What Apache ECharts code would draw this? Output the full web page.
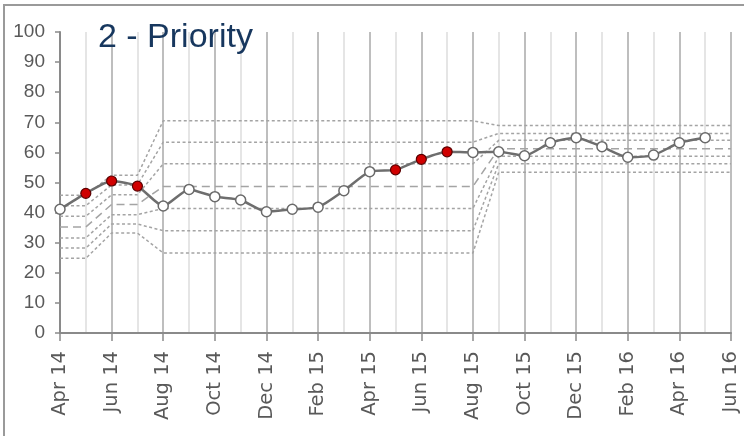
<!DOCTYPE html>
<html>
<head>
<meta charset="utf-8">
<script src="https://cdn.jsdelivr.net/npm/echarts@6/dist/echarts.min.js"></script>
<style>
html,body{margin:0;padding:0;background:#fff;}
#chart{width:744px;height:436px;}
</style>
</head>
<body>
<div id="chart"></div>
<script>
var months = ['Apr 14','May 14','Jun 14','Jul 14','Aug 14','Sep 14','Oct 14','Nov 14','Dec 14',
  'Jan 15','Feb 15','Mar 15','Apr 15','May 15','Jun 15','Jul 15','Aug 15','Sep 15','Oct 15',
  'Nov 15','Dec 15','Jan 16','Feb 16','Mar 16','Apr 16','May 16','Jun 16'];
var values = [41.1,46.4,50.5,48.8,42.2,47.7,45.3,44.2,40.3,41.1,41.8,47.3,53.6,54.2,57.7,60.2,
  60.0,60.2,58.9,63.2,64.9,61.9,58.4,59.1,63.2,64.9];
var signalIdx = [1,2,3,13,14,15];
var yTicks = [0,10,20,30,40,50,60,70,80,90,100];

var ucl   = [45.8,45.8,52.4,52.4,70.5,70.5,70.5,70.5,70.5,70.5,70.5,70.5,70.5,70.5,70.5,70.5,70.5,68.9,68.9,68.9,68.9,68.9,68.9,68.9,68.9,68.9,68.9];
var upper2= [42.3,42.3,49.2,49.2,63.4,63.4,63.4,63.4,63.4,63.4,63.4,63.4,63.4,63.4,63.4,63.4,63.4,66.3,66.3,66.3,66.3,66.3,66.3,66.3,66.3,66.3,66.3];
var upper1= [38.8,38.8,45.9,45.9,56.2,56.2,56.2,56.2,56.2,56.2,56.2,56.2,56.2,56.2,56.2,56.2,56.2,64.0,64.0,64.0,64.0,64.0,64.0,64.0,64.0,64.0,64.0];
var mean  = [35.2,35.2,42.7,42.7,48.7,48.7,48.7,48.7,48.7,48.7,48.7,48.7,48.7,48.7,48.7,48.7,48.7,61.2,61.2,61.2,61.2,61.2,61.2,61.2,61.2,61.2,61.2];
var lower1= [31.6,31.6,39.3,39.3,41.4,41.4,41.4,41.4,41.4,41.4,41.4,41.4,41.4,41.4,41.4,41.4,41.4,58.7,58.7,58.7,58.7,58.7,58.7,58.7,58.7,58.7,58.7];
var lower2= [28.2,28.2,36.2,36.2,34.0,34.0,34.0,34.0,34.0,34.0,34.0,34.0,34.0,34.0,34.0,34.0,34.0,56.2,56.2,56.2,56.2,56.2,56.2,56.2,56.2,56.2,56.2];
var lcl   = [24.8,24.8,33.2,33.2,26.6,26.6,26.6,26.6,26.6,26.6,26.6,26.6,26.6,26.6,26.6,26.6,26.6,53.4,53.4,53.4,53.4,53.4,53.4,53.4,53.4,53.4,53.4];

var chart = echarts.init(document.getElementById('chart'));

function limitSeries(data, dashed) {
  return {
    type: 'line', data: data, symbol: 'none', silent: true, z: 1,
    lineStyle: { color: '#a4a4a4', width: 1.5, type: dashed ? [8,5] : [3,2.5] }
  };
}

var pointData = values.map(function (v, i) {
  var sig = signalIdx.indexOf(i) >= 0;
  return {
    value: v,
    itemStyle: sig ? { color: '#d00000', borderColor: '#5a0000', borderWidth: 1.2 }
                   : { color: '#ffffff', borderColor: '#6a6a6a', borderWidth: 1.5 }
  };
});

var option = {
  animation: false,
  backgroundColor: '#ffffff',
  title: {
    text: '2 - Priority', left: 93, top: 16,
    textStyle: { fontFamily: 'Liberation Sans, Arial, sans-serif', fontSize: 34, fontWeight: 'normal', color: '#17375e' }
  },
  grid: { left: 60, right: 13, top: 32, bottom: 103, containLabel: false },
  xAxis: {
    type: 'category', data: months, boundaryGap: false,
    axisLine: { lineStyle: { color: '#8a8a8a', width: 2 } },
    axisTick: { show: true, interval: 1, length: 8, lineStyle: { color: '#8a8a8a', width: 1.5 } },
    axisLabel: { interval: 1, rotate: 90, margin: 18, color: '#595959',
      fontFamily: 'DejaVu Sans, sans-serif', fontSize: 19.5 },
    splitLine: { show: true, interval: 0, lineStyle: { color: ['#a8a8a8', '#dcdcdc'], width: 1.5 } }
  },
  yAxis: {
    type: 'value', min: 0, max: 100, interval: 10,
    axisLine: { show: true, lineStyle: { color: '#8a8a8a', width: 2 } },
    axisTick: { show: true, length: 5, lineStyle: { color: '#8a8a8a', width: 1.5 } },
    axisLabel: { margin: 15, color: '#595959',
      fontFamily: 'Liberation Sans, Arial, sans-serif', fontSize: 19,
      formatter: function (v) { return yTicks.indexOf(v) >= 0 ? String(v) : ''; } },
    splitLine: { show: false }
  },
  graphic: [{
    type: 'polyline', z: 100, silent: true,
    shape: { points: [[4, 460], [4, 5], [760, 5]] },
    style: { fill: null, stroke: '#9a9a9a', lineWidth: 2 }
  }],
  series: [
    limitSeries(ucl, false),
    limitSeries(upper2, false),
    limitSeries(upper1, false),
    limitSeries(mean, true),
    limitSeries(lower1, false),
    limitSeries(lower2, false),
    limitSeries(lcl, false),
    {
      type: 'line', data: pointData, z: 5, smooth: 0.2,
      symbol: 'circle', symbolSize: 10,
      lineStyle: { color: '#6e6e6e', width: 2.5 }
    }
  ]
};
chart.setOption(option);
</script>
</body>
</html>
